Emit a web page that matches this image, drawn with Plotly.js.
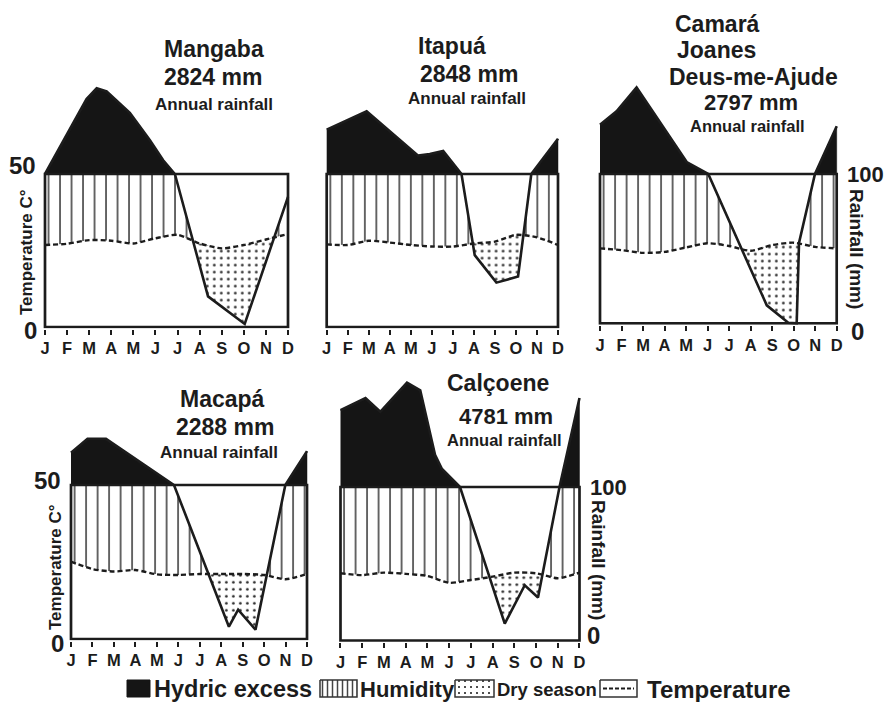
<!DOCTYPE html>
<html><head><meta charset="utf-8">
<script src="https://cdn.plot.ly/plotly-3.0.1.min.js"></script>
<style>html,body{margin:0;padding:0;background:#fff}#chart{width:885px;height:702px}</style>
</head><body><div id="chart"></div>
<script>
// ---------- DATA ----------
const months = ['J','F','M','A','M','J','J','A','S','O','N','D'];
const monthIdx = [0,1,2,3,4,5,6,7,8,9,10,11];

// Temperature, °C (monthly)
const mangabaTemp  = [26.8, 27.2, 28.4, 28.2, 27.3, 29.0, 30.1, 27.3, 25.7, 26.8, 28.6, 30.4];
const itapuaTemp   = [27.0, 26.8, 28.2, 27.6, 26.8, 26.3, 26.3, 27.3, 27.9, 30.1, 29.3, 26.8];
const camaraTemp   = [25.1, 24.5, 23.6, 23.9, 25.4, 26.8, 25.9, 24.3, 26.2, 27.0, 25.6, 25.1];
const macapaTemp   = [25.1, 22.7, 21.9, 22.4, 21.0, 20.8, 21.1, 21.1, 21.1, 20.8, 19.4, 21.1];
const calcoeneTemp = [21.9, 21.3, 22.1, 21.7, 21.0, 18.8, 19.7, 20.8, 22.1, 21.9, 20.3, 22.1];

// Rainfall curve vertices: position (month index) and rainfall (mm, chart scale)
const mangabaRainX  = [0, 1.88, 2.34, 2.79, 3.84, 4.75, 5.35, 5.88, 7.38, 9.04, 11];
const mangabaRain   = [100, 149, 156, 154, 140, 122, 109, 100, 20, 2, 85];
const itapuaRainX   = [0, 0.95, 1.9, 4.35, 4.9, 5.54, 6.41, 7.04, 8.07, 9.1, 9.73, 11];
const itapuaRain    = [129, 135, 141, 112, 113, 115, 100, 47, 29, 33, 100, 123];
const camaraRainX   = [0, 0.77, 1.7, 4.03, 5.03, 7.75, 8.75, 9.14, 9.25, 9.99, 11];
const camaraRain    = [133, 142, 158, 108, 100, 12, 0.4, 0, 54, 100, 132];
const macapaRainX   = [0, 0.77, 1.63, 4.8, 7.36, 7.79, 8.6, 9.99, 11];
const macapaRain    = [121, 130, 130, 100, 8, 19, 6, 100, 122];
const calcoeneRainX = [0, 1.15, 1.83, 3.06, 3.67, 4.35, 4.66, 5.5, 7.56, 8.48, 9.09, 10.08, 11];
const calcoeneRain  = [150, 158, 149, 168, 163, 121, 112, 100, 11, 36, 28, 100, 158];

const stationNames = ['Mangaba', 'Itapuá', 'Camará', 'Joanes', 'Deus-me-Ajude', 'Macapá', 'Calçoene'];
const annualRain = ['2824 mm', '2848 mm', '2797 mm', '2288 mm', '4781 mm'];
const legendLabels = ['Hydric excess', 'Humidity', 'Dry season', 'Temperature'];

// ---------- LAYOUT GEOMETRY ----------
const W = 885, H = 702;
const FONT = 'Liberation Sans, Arial, sans-serif';
const INK = '#1c1c1c';
const CAP = 50;           // 50 °C  ==  100 mm
const MM_PER_DEG = 2;

const panels = [
  {temp: mangabaTemp,  rx: mangabaRainX,  rain: mangabaRain,  xp: [45, 288],    y0: 327,   y50: 174},
  {temp: itapuaTemp,   rx: itapuaRainX,   rain: itapuaRain,   xp: [326.7, 558], y0: 327,   y50: 174},
  {temp: camaraTemp,   rx: camaraRainX,   rain: camaraRain,   xp: [600, 836.7], y0: 323.3, y50: 174},
  {temp: macapaTemp,   rx: macapaRainX,   rain: macapaRain,   xp: [71, 307],    y0: 639,   y50: 485},
  {temp: calcoeneTemp, rx: calcoeneRainX, rain: calcoeneRain, xp: [340.5, 579.5], y0: 640.5, y50: 487},
];

function lin(xs, ys, x) {
  if (x <= xs[0]) return ys[0];
  for (let i = 0; i < xs.length - 1; i++) {
    if (x <= xs[i + 1]) { const t = (x - xs[i]) / (xs[i + 1] - xs[i]); return ys[i] + t * (ys[i + 1] - ys[i]); }
  }
  return ys[ys.length - 1];
}
function uniqSort(a) {
  a = a.slice().sort((p, q) => p - q);
  const o = [];
  a.forEach(v => { if (!o.length || v - o[o.length - 1] > 1e-9) o.push(v); });
  return o;
}

const traces = [];
const layout = {
  width: W, height: H, margin: {l: 0, r: 0, t: 0, b: 0},
  paper_bgcolor: '#fff', plot_bgcolor: 'rgba(0,0,0,0)', showlegend: false,
  shapes: [], annotations: []
};

const XR = [-0.1, 11.1], YR = [-0.5, 90];

panels.forEach((p, i) => {
  const n = i + 1;
  const xa = 'x' + n, ya = 'y' + n;
  const rU = p.rain.map(v => v / MM_PER_DEG);
  const R = x => lin(p.rx, rU, x), T = x => lin(monthIdx, p.temp, x);
  let X = uniqSort(p.rx.concat(monthIdx));
  const extra = [];
  for (let k = 0; k < X.length - 1; k++) {
    const a = X[k], b = X[k + 1];
    [x => R(x) - T(x), x => R(x) - CAP].forEach(f => {
      const d0 = f(a), d1 = f(b);
      if (d0 * d1 < 0) extra.push(a + (b - a) * d0 / (d0 - d1));
    });
  }
  X = uniqSort(X.concat(extra));
  const Rv = X.map(R), Tv = X.map(T);
  const Xrev = X.slice().reverse();
  const poly = (up, lo) => ({x: X.concat(Xrev), y: up.concat(lo.slice().reverse())});

  // hydric excess
  const ex = poly(Rv.map(v => Math.max(v, CAP)), X.map(() => CAP));
  traces.push({x: ex.x, y: ex.y, xaxis: xa, yaxis: ya, type: 'scatter', mode: 'lines', fill: 'toself',
    fillcolor: '#151515', line: {width: 0.5, color: '#151515'}, hoverinfo: 'skip'});
  // humidity
  const hu = poly(X.map((x, k) => Math.min(Math.max(Rv[k], Tv[k]), CAP)), Tv);
  traces.push({x: hu.x, y: hu.y, xaxis: xa, yaxis: ya, type: 'scatter', mode: 'lines', fill: 'toself',
    fillcolor: 'rgba(0,0,0,0)', line: {width: 0}, hoverinfo: 'skip',
    fillpattern: {shape: '|', size: 11.5, solidity: 0.14, fgcolor: '#444', bgcolor: 'rgba(0,0,0,0)'}});
  // dry season
  const dr = poly(Tv, X.map((x, k) => Math.min(Rv[k], Tv[k])));
  traces.push({x: dr.x, y: dr.y, xaxis: xa, yaxis: ya, type: 'scatter', mode: 'lines', fill: 'toself',
    fillcolor: 'rgba(0,0,0,0)', line: {width: 0}, hoverinfo: 'skip',
    fillpattern: {shape: '.', size: 7, solidity: 0.12, fgcolor: '#222', bgcolor: 'rgba(0,0,0,0)'}});
  // temperature
  traces.push({x: monthIdx, y: p.temp, xaxis: xa, yaxis: ya, type: 'scatter', mode: 'lines',
    line: {width: 2.4, color: INK, dash: '5px,3px', shape: 'spline', smoothing: 0.7}, hoverinfo: 'skip'});
  // rainfall
  traces.push({x: p.rx, y: rU, xaxis: xa, yaxis: ya, type: 'scatter', mode: 'lines',
    line: {width: 2.6, color: INK}, hoverinfo: 'skip'});

  // axes
  const kx = (p.xp[1] - p.xp[0]) / 11;
  const xd = [(p.xp[0] + XR[0] * kx) / W, (p.xp[0] + XR[1] * kx) / W];
  const ky = (p.y0 - p.y50) / CAP;
  const yd = [1 - (p.y0 - YR[0] * ky) / H, 1 - (p.y0 - YR[1] * ky) / H];
  layout['xaxis' + (n === 1 ? '' : n)] = {
    domain: xd, range: XR, anchor: ya, tickmode: 'array', tickvals: monthIdx, ticktext: months,
    ticks: 'outside', ticklen: 5, tickwidth: 2, tickcolor: INK, showgrid: false, zeroline: false, showline: false,
    tickfont: {family: FONT, size: 16.5, weight: 'bold', color: INK}, fixedrange: true
  };
  layout['yaxis' + (n === 1 ? '' : n)] = {domain: yd, range: YR, anchor: xa, visible: false, fixedrange: true};
  layout.shapes.push({type: 'rect', xref: xa, yref: ya, x0: 0, x1: 11, y0: 0, y1: CAP,
    line: {width: 2.7, color: INK}, fillcolor: 'rgba(0,0,0,0)', layer: 'above'});
});

// ---------- TEXT ----------
function ann(text, x, y, size, opts) {
  layout.annotations.push(Object.assign({
    text: text, x: x / W, y: 1 - y / H, xref: 'paper', yref: 'paper', showarrow: false,
    xanchor: 'center', yanchor: 'middle', font: {family: FONT, size: size, weight: 'bold', color: INK}
  }, opts || {}));
}
// titles
ann(stationNames[0], 214, 49, 23); ann(annualRain[0], 213, 77, 23); ann('Annual rainfall', 214, 104, 17);
ann(stationNames[1], 452, 46, 23); ann(annualRain[1], 469, 74, 23); ann('Annual rainfall', 467, 99, 17);
ann(stationNames[2], 673, 24, 23, {xanchor: 'left'}); ann(stationNames[3], 675, 50, 23, {xanchor: 'left'});
ann(stationNames[4], 753, 77, 23); ann(annualRain[2], 751, 102, 22); ann('Annual rainfall', 747, 126, 16.5);
ann(stationNames[5], 222, 399, 23); ann(annualRain[3], 225, 427, 23); ann('Annual rainfall', 219, 452, 17);
ann(stationNames[6], 498, 383, 23); ann(annualRain[4], 506, 416, 22); ann('Annual rainfall', 505, 440, 16.5);
// axis labels
ann('50', 22, 166, 24); ann('0', 30, 330, 24); ann('Temperature C°', 26, 252, 17, {textangle: -90});
ann('50', 47, 480, 24); ann('0', 57, 643, 24); ann('Temperature C°', 55, 567, 17, {textangle: -90});
ann('100', 865, 174, 22); ann('0', 857, 331, 24); ann('Rainfall (mm)', 857, 249, 19, {textangle: 90});
ann('100', 608, 487, 22); ann('0', 593, 635, 24); ann('Rainfall (mm)', 599, 560, 19, {textangle: 90});

// ---------- LEGEND (keys on a pixel-space overlay axis) ----------
layout.xaxis6 = {domain: [0, 1], range: [0, W], visible: false, fixedrange: true, anchor: 'y6'};
layout.yaxis6 = {domain: [0, 1], range: [H, 0], visible: false, fixedrange: true, anchor: 'x6'};
function keyBox(x0, x1, y0, y1) { return {x: [x0, x1, x1, x0, x0], y: [y0, y0, y1, y1, y0]}; }
const kb1 = keyBox(127, 150, 680, 697), kb2 = keyBox(320, 357, 680, 697), kb3 = keyBox(455, 494, 680, 697), kb4 = keyBox(600, 637, 680, 697);
traces.push(Object.assign({xaxis: 'x6', yaxis: 'y6', type: 'scatter', mode: 'lines', fill: 'toself', fillcolor: '#151515', line: {width: 1, color: '#151515'}, hoverinfo: 'skip'}, kb1));
traces.push(Object.assign({xaxis: 'x6', yaxis: 'y6', type: 'scatter', mode: 'lines', fill: 'toself', fillcolor: 'rgba(0,0,0,0)', line: {width: 1.5, color: '#333'}, hoverinfo: 'skip',
  fillpattern: {shape: '|', size: 5, solidity: 0.3, fgcolor: '#444', bgcolor: 'rgba(0,0,0,0)'}}, kb2));
traces.push(Object.assign({xaxis: 'x6', yaxis: 'y6', type: 'scatter', mode: 'lines', fill: 'toself', fillcolor: 'rgba(0,0,0,0)', line: {width: 1.5, color: '#333'}, hoverinfo: 'skip',
  fillpattern: {shape: '.', size: 6, solidity: 0.1, fgcolor: '#222', bgcolor: 'rgba(0,0,0,0)'}}, kb3));
traces.push(Object.assign({xaxis: 'x6', yaxis: 'y6', type: 'scatter', mode: 'lines', line: {width: 1.5, color: '#333'}, hoverinfo: 'skip'}, kb4));
traces.push({xaxis: 'x6', yaxis: 'y6', type: 'scatter', mode: 'lines', x: [603, 634], y: [688.5, 688.5], line: {width: 2, color: INK, dash: '4px,2px'}, hoverinfo: 'skip'});
ann(legendLabels[0], 152, 689, 23.5, {xanchor: 'left'});
ann(legendLabels[1], 358, 689, 22, {xanchor: 'left'});
ann(legendLabels[2], 495, 689, 18.5, {xanchor: 'left'});
ann(legendLabels[3], 645, 689, 24, {xanchor: 'left'});

Plotly.newPlot('chart', traces, layout, {staticPlot: true, displayModeBar: false});
</script></body></html>
